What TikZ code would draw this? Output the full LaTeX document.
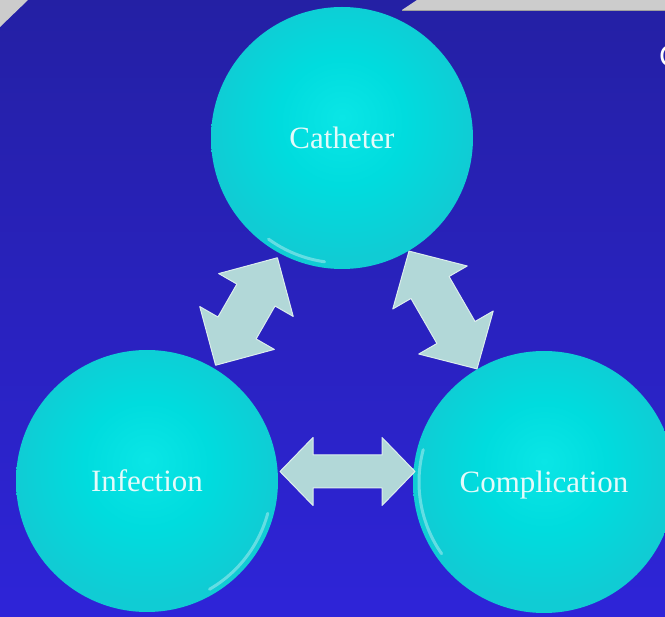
\documentclass[tikz,border=0pt]{standalone}
\usepackage{fontspec}
\setmainfont{Liberation Serif}
\newfontfamily\sansC{Liberation Sans}
\usetikzlibrary{calc}
\definecolor{bgtop}{RGB}{36,32,164}
\definecolor{bgbot}{RGB}{46,36,216}
\definecolor{ballhi}{RGB}{10,230,230}
\definecolor{ballin}{RGB}{0,220,222}
\definecolor{ballout}{RGB}{16,204,212}
\definecolor{arrowc}{RGB}{178,216,216}
\definecolor{txtc}{RGB}{228,250,250}
\definecolor{greyc}{RGB}{204,204,204}
\pgfdeclareradialshading{ballsh}{\pgfpoint{0bp}{4bp}}{color(0bp)=(ballhi); color(12bp)=(ballin); color(25bp)=(ballout); color(50bp)=(ballout)}
\tikzset{
  pics/dblarrow/.style args={#1/#2/#3/#4}{code={
    \path[arrowshape] (-#1,0) -- (-#1+#2,#3) -- (-#1+#2,#4) -- (#1-#2,#4) -- (#1-#2,#3) -- (#1,0)
      -- (#1-#2,-#3) -- (#1-#2,-#4) -- (-#1+#2,-#4) -- (-#1+#2,-#3) -- cycle;
  }}
}
\begin{document}
\begin{tikzpicture}[x=1pt,y=-1pt,
  ball/.style={circle, minimum size=262pt, inner sep=0pt, shading=ballsh},
  balltext/.style={text=txtc, font=\fontsize{31}{36}\selectfont, text height=0.68em, text depth=0pt, yshift=-7pt},
  arrowshape/.style={fill=arrowc, draw=white!55!arrowc, line width=1pt, line join=round},
  rim/.style={draw=white, opacity=0.35, line width=3pt, line cap=round},
  greyband/.style={fill=greyc}
]
\useasboundingbox (0,0) rectangle (665,617);
\fill[top color=bgtop, bottom color=bgbot] (0,0) rectangle (665,617);
% grey fragments at the top
\fill[greyband] (0,0) -- (28,0) -- (0,27) -- cycle;
\fill[greyband] (417,0) -- (665,0) -- (665,10) -- (402,10) -- cycle;
\draw[gray!75, line width=0.8pt] (402,10) -- (665,10);
% partial letter at the right edge
\begin{scope}
\clip (0,0) rectangle (665,617);
\node[anchor=west, inner sep=0pt, text=white, font=\sansC\fontsize{30}{34}\selectfont] (cut) at (659,56) {C};
\end{scope}
% circles
\node[ball, label={[balltext]center:Catheter}] (cath) at (342,138) {};
\node[ball, label={[balltext]center:Infection}] (inf) at (147,481) {};
\node[ball, label={[balltext]center:Complication}] (comp) at (544,482) {};
% rim highlights
\draw[rim] ($(cath.center)+(-234:125)$) arc[start angle=-234, end angle=-262, radius=125];
\draw[rim] ($(inf.center)+(-300:125)$) arc[start angle=-300, end angle=-345, radius=125];
\draw[rim] ($(comp.center)+(-165:125)$) arc[start angle=-165, end angle=-215, radius=125];
% double block arrows
\pic[rotate=60.1] (arrL) at ($(inf)!0.5!(cath)+(2,2)$) {dblarrow=62/43/43/22};
\pic[rotate=-60] (arrR) at ($(cath)!0.5!(comp)$) {dblarrow=68/42/43/22};
\pic (arrB) at ($(inf)!0.5!(comp)+(2,-10)$) {dblarrow=67.5/33/34/16.5};
\end{tikzpicture}
\end{document}
